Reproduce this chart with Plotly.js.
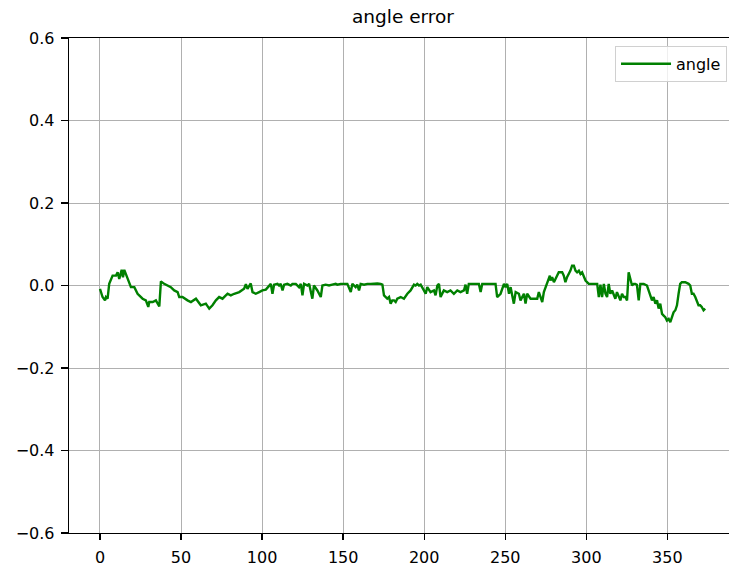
<!DOCTYPE html>
<html>
<head>
<meta charset="utf-8">
<script src="https://cdn.plot.ly/plotly-3.0.1.min.js"></script>
<style>
html,body{margin:0;padding:0;background:#fff;overflow:hidden;}
#chart{width:729px;height:569px;}
</style>
</head>
<body>
<div id="chart"></div>
<script>
const chartTitle = "angle error";
const seriesName = "angle";
const xTicks = [0, 50, 100, 150, 200, 250, 300, 350];
const yTicks = [-0.6, -0.4, -0.2, 0.0, 0.2, 0.4, 0.6];

const stepX = [
  0, 1.6, 3.1, 3.7, 4.7, 5.7, 7.8, 9.9, 10.9, 11.9, 13.4, 14.2, 15.0, 17.0, 19.1, 21.2, 23.2, 26.3, 28.3, 29.8,
  30.4, 32.5, 34.5, 36.6, 37.6, 39.6, 41.7, 43.7, 45.8, 47.9, 48.9, 50.9, 54.0, 56.1, 59.2, 62.2, 65.3, 67.4, 69.4, 71.5,
  73.5, 75.6, 78.7, 80.7, 82.8, 85.9, 88.9, 90.0, 91.0, 92.6,
  93.0, 94.1, 96.1, 98.2, 100.2, 102.3, 104.3, 105.4, 106.4, 107.4, 109.5, 110.5, 111.5, 112.6, 113.6, 115.6, 117.7, 118.7,
  120.8, 122.8, 123.9, 124.9, 125.9, 128.0, 129.0, 130.0, 131.0, 132.0, 134.1, 136.2, 137.2, 139.2, 141.3, 143.3, 145.4,
  146.4, 148.5, 150.5, 152.6, 154.7, 155.7, 157.7, 158.7, 159.8, 160.8, 162.9, 164.9, 167.0, 169.0, 171.1, 173.1, 174.2,
  175.2, 177.2, 178.3, 179.3, 180.3, 181.4, 182.4, 183.4, 185.5,
  187.5, 189.6, 191.6, 193.7, 194.7, 195.7, 196.8, 197.8, 198.8, 199.8, 200.9, 201.9, 203.9, 206.0, 207.0, 208.1, 209.1,
  210.1, 212.1, 214.2, 216.2, 218.3, 220.4, 222.4, 224.5, 225.5, 226.5, 227.5, 229.6, 231.7, 233.7, 234.8, 235.8, 237.8,
  240.9, 243.0, 244.0, 245.0, 247.1, 249.2, 250.2, 251.2, 252.3, 253.3, 254.3, 255.3, 256.4, 258.4, 259.4, 261.5, 262.5,
  263.5, 265.6, 267.6, 269.7, 270.7, 271.8, 272.8, 273.8, 275.9, 277.5,
  277.9, 278.9, 280.0, 281.0, 282.0, 283.0, 285.1, 286.1, 287.1, 288.1, 290.2, 291.2, 292.3, 293.3, 294.3, 295.4, 296.4,
  297.4, 299.5, 301.5, 303.6, 306.7, 307.7, 308.7, 309.7, 310.8, 311.8, 312.8, 313.8, 314.8, 315.9, 316.9, 317.9, 318.9,
  320.0, 321.0, 322.0, 323.1, 324.1, 325.1, 326.1, 327.2, 328.2, 329.2, 330.2, 331.2, 332.3, 333.3, 335.4, 337.4, 339.5,
  340.5, 341.5, 342.6, 343.6, 344.6, 345.6, 346.7, 347.7, 348.7, 349.7, 350.8, 351.8, 352.8, 353.8, 354.9, 355.9, 356.9,
  357.9, 358.9, 361.0, 363.1, 364.1, 365.1, 366.1, 367.2, 368.2, 369.2, 370.2, 371.2, 372.3, 373.3
];

const angleErr = [
  -0.008, -0.028, -0.036, -0.028, -0.032, 0.004, 0.024, 0.024, 0.032, 0.016, 0.038, 0.020, 0.038, 0.016, -0.004, -0.004, -0.020, -0.032, -0.036, -0.052,
  -0.040, -0.040, -0.036, -0.051, 0.010, 0.004, 0.000, -0.004, -0.012, -0.016, -0.028, -0.028, -0.036, -0.040, -0.032, -0.048, -0.044, -0.056, -0.048, -0.036,
  -0.028, -0.032, -0.020, -0.024, -0.020, -0.016, -0.008, 0.003, -0.008, 0.004,
  0.005, -0.016, -0.020, -0.016, -0.012, -0.010, 0.000, 0.004, -0.020, 0.002, 0.004, 0.000, 0.004, -0.012, 0.002, 0.004, 0.000, 0.004,
  0.004, -0.004, 0.004, -0.024, 0.004, 0.000, 0.004, -0.012, -0.032, 0.000, -0.012, -0.028, 0.000, 0.002, 0.000, 0.002, 0.004,
  0.002, 0.004, 0.004, 0.004, -0.016, 0.004, -0.004, 0.002, -0.012, 0.004, 0.002, 0.004, 0.004, 0.005, 0.005, 0.004, 0.002,
  -0.024, -0.032, -0.028, -0.044, -0.036, -0.036, -0.040, -0.032, -0.028,
  -0.032, -0.020, -0.012, 0.002, 0.000, 0.004, 0.000, 0.002, -0.004, -0.012, -0.020, -0.004, -0.016, -0.012, -0.024, 0.000, 0.004,
  -0.028, -0.012, -0.016, -0.012, -0.020, -0.012, -0.016, -0.012, 0.002, -0.020, 0.004, 0.004, 0.004, 0.004, -0.016, 0.004, 0.004,
  0.004, 0.004, 0.004, -0.028, -0.020, 0.004, -0.004, 0.004, -0.020, -0.004, -0.028, -0.044, -0.016, -0.020, -0.036, -0.020, -0.044,
  -0.020, -0.032, -0.032, -0.032, -0.016, -0.032, -0.040, -0.016, 0.004, 0.024,
  0.012, 0.020, 0.008, 0.016, 0.024, 0.032, 0.032, 0.024, 0.008, 0.020, 0.036, 0.048, 0.048, 0.036, 0.032, 0.036, 0.028,
  0.032, 0.012, 0.004, 0.004, 0.004, -0.028, 0.002, -0.028, 0.004, -0.020, -0.028, 0.004, -0.020, -0.012, -0.020, -0.032, -0.016,
  -0.028, -0.036, -0.020, -0.028, -0.028, -0.036, 0.032, 0.016, 0.000, 0.004, 0.004, 0.002, -0.036, 0.004, 0.004, 0.000, -0.028,
  -0.036, -0.028, -0.044, -0.036, -0.056, -0.044, -0.069, -0.073, -0.077, -0.085, -0.081, -0.089, -0.077, -0.065, -0.060, -0.048, -0.020,
  0.004, 0.008, 0.008, 0.004, 0.000, -0.020, -0.020, -0.028, -0.040, -0.048, -0.048, -0.052, -0.060, -0.056
];

const font = {family: "DejaVu Sans, sans-serif", color: "#000"};

const trace = {
  x: stepX,
  y: angleErr,
  type: "scatter",
  mode: "lines",
  name: seriesName,
  line: {color: "#008000", width: 2.4}
};

const layout = {
  width: 729,
  height: 569,
  margin: {l: 69, r: 0, t: 38, b: 36, pad: 0},
  paper_bgcolor: "#fff",
  plot_bgcolor: "#fff",
  font: Object.assign({size: 16}, font),
  title: {
    text: chartTitle,
    font: Object.assign({size: 18.5}, font),
    x: 0.506, xref: "paper", xanchor: "center",
    y: 1, yref: "container", yanchor: "top", pad: {t: 10}
  },
  showlegend: true,
  legend: {
    x: 0.997, xanchor: "right",
    y: 0.984, yanchor: "top",
    bgcolor: "rgba(255,255,255,0.8)",
    bordercolor: "#d0d0d0",
    borderwidth: 1,
    itemwidth: 50,
    font: Object.assign({size: 16}, font)
  },
  xaxis: {
    range: [-19.1, 388],
    tickvals: xTicks,
    ticktext: xTicks.map(String),
    showgrid: true, gridcolor: "#b0b0b0", gridwidth: 1,
    zeroline: false,
    showline: true, linecolor: "#000", linewidth: 1.3, mirror: true,
    ticks: "outside", ticklen: 6, tickwidth: 1.3, tickcolor: "#000",
    ticklabelstandoff: 3,
    tickfont: Object.assign({size: 16}, font)
  },
  yaxis: {
    range: [-0.6, 0.6],
    tickvals: yTicks,
    tickformat: ".1f",
    showgrid: true, gridcolor: "#b0b0b0", gridwidth: 1,
    zeroline: false,
    showline: true, linecolor: "#000", linewidth: 1.3, mirror: false,
    ticks: "outside", ticklen: 7, tickwidth: 1.3, tickcolor: "#000",
    ticklabelstandoff: 3,
    tickfont: Object.assign({size: 16}, font)
  }
};

Plotly.newPlot("chart", [trace], layout, {displayModeBar: false, staticPlot: true});
</script>
</body>
</html>
